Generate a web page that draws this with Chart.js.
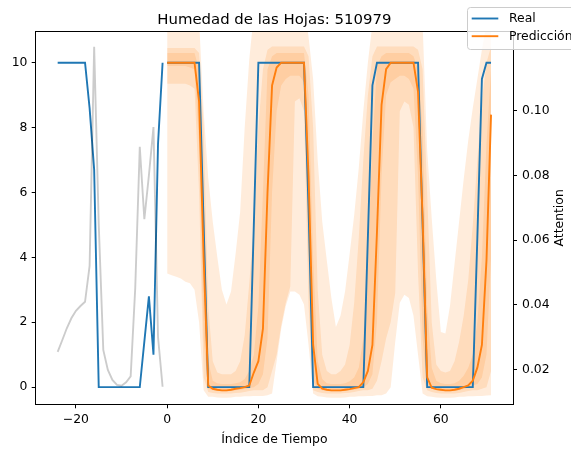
<!DOCTYPE html>
<html>
<head>
<meta charset="utf-8">
<script src="https://cdn.jsdelivr.net/npm/chart.js@4.4.1/dist/chart.umd.min.js"></script>
<style>
  html, body { margin: 0; padding: 0; background: #ffffff; }
  #wrap { width: 571px; height: 449px; }
</style>
</head>
<body>
<div id="wrap"><canvas id="c" width="571" height="449"></canvas></div>
<script>
// ---- data -------------------------------------------------------------
const chartTitle = 'Humedad de las Hojas: 510979';
const xTitle = 'Índice de Tiempo';
const attnTitle = 'Attention';

const histIndex = [-24,-23,-22,-21,-20,-19,-18,-17,-16,-15,-14,-13,-12,-11,-10,-9,-8,-7,-6,-5,-4,-3,-2,-1];
const horizonIndex = [0,1,2,3,4,5,6,7,8,9,10,11,12,13,14,15,16,17,18,19,20,21,22,23,24,25,26,27,28,29,
  30,31,32,33,34,35,36,37,38,39,40,41,42,43,44,45,46,47,48,49,50,51,52,53,54,55,56,57,58,59,
  60,61,62,63,64,65,66,67,68,69,70,71];

// observed leaf wetness, encoder window
const realHistory = [10,10,10,10,10,10,10,8.6,6.7,0,0,0,0,0,0,0,0,0,0,1.4,2.8,1.0,7.5,10];

// observed leaf wetness, forecast window
const realHorizon = [
  10,10,10,10,10,10,10,10,5,0,
  0,0,0,0,0,0,0,0,0,5,
  10,10,10,10,10,10,10,10,10,10,
  10,5.5,0,0,0,0,0,0,0,0,
  0,0,0,0,4.6,9.3,10,10,10,10,
  10,10,10,10,10,10,5,0,0,0,
  0,0,0,0,0,0,0,0,4.6,9.5,
  10,10];

// median forecast
const prediction = [
  10,10,10,10,10,10,10,8.8,4.0,0.05,
  -0.05,-0.08,-0.1,-0.1,-0.08,-0.05,-0.03,0.0,0.05,0.45,
  0.8,1.8,6.0,9.3,9.85,10,10,10,10,10,
  10,6.5,1.3,0.1,-0.05,-0.08,-0.1,-0.1,-0.1,-0.08,
  -0.06,-0.03,0.0,0.15,0.5,1.3,4.8,8.7,9.8,10,
  10,10,10,10,10,9.1,5.2,0.3,-0.02,-0.06,
  -0.08,-0.1,-0.1,-0.08,-0.05,0.0,0.05,0.2,0.6,1.3,
  3.9,8.4];

// forecast quantiles
const q02 = [
  3.5,3.45,3.4,3.35,3.25,3.2,3.0,2.0,-0.1,-0.3,
  -0.3,-0.32,-0.33,-0.33,-0.32,-0.3,-0.3,-0.28,-0.28,-0.27,
  -0.27,-0.27,-0.25,-0.2,0.8,1.8,2.5,2.95,2.95,2.85,
  2.55,1.3,-0.2,-0.28,-0.3,-0.32,-0.33,-0.33,-0.33,-0.32,
  -0.3,-0.3,-0.28,-0.28,-0.27,-0.27,-0.25,-0.25,-0.2,0.0,
  1.4,2.6,2.85,2.75,2.2,1.0,-0.2,-0.28,-0.3,-0.32,
  -0.33,-0.33,-0.33,-0.32,-0.3,-0.3,-0.28,-0.28,-0.27,-0.27,
  -0.26,-0.25];
const q10 = [
  9.35,9.35,9.35,9.35,9.35,9.3,9.2,6.0,0.3,-0.15,
  -0.18,-0.2,-0.2,-0.2,-0.2,-0.18,-0.17,-0.15,-0.12,-0.1,
  -0.1,-0.1,0.0,0.5,1.0,1.9,2.6,3.1,8.8,8.9,
  8.5,2.5,-0.1,-0.15,-0.18,-0.2,-0.2,-0.2,-0.2,-0.18,
  -0.17,-0.15,-0.12,-0.1,-0.1,-0.05,0.2,0.8,1.5,2.0,
  2.9,8.5,8.8,8.7,8.0,3.5,0.3,-0.1,-0.15,-0.18,
  -0.2,-0.2,-0.2,-0.2,-0.18,-0.15,-0.12,-0.1,-0.1,-0.05,
  0.0,0.5];
const q25 = [
  9.9,9.9,9.9,9.9,9.9,9.85,9.8,7.5,1.5,-0.05,
  -0.1,-0.12,-0.13,-0.13,-0.12,-0.1,-0.08,-0.06,-0.03,0.0,
  0.1,0.4,1.5,6.0,8.5,9.3,9.5,9.6,9.6,9.6,
  9.4,4.0,0.2,-0.05,-0.1,-0.12,-0.13,-0.13,-0.13,-0.12,
  -0.1,-0.08,-0.05,0.0,0.1,0.4,2.0,6.5,9.0,9.4,
  9.5,9.6,9.6,9.5,9.2,6.5,1.5,0.0,-0.05,-0.1,
  -0.12,-0.13,-0.13,-0.12,-0.1,-0.06,-0.02,0.05,0.1,0.3,
  1.0,4.0];
const q75 = [
  10.3,10.3,10.3,10.3,10.3,10.3,10.3,9.8,6.0,0.8,
  0.2,0.12,0.1,0.1,0.1,0.12,0.15,0.25,0.5,1.0,
  2.5,6.0,9.8,10.2,10.3,10.3,10.3,10.3,10.3,10.3,
  10.3,9.0,4.0,0.8,0.25,0.12,0.1,0.1,0.1,0.12,
  0.18,0.3,0.6,1.5,4.0,7.5,9.9,10.2,10.3,10.3,
  10.3,10.3,10.3,10.3,10.2,9.8,8.0,2.5,0.6,0.2,
  0.12,0.1,0.1,0.12,0.2,0.35,0.6,1.0,2.0,4.0,
  7.5,9.8];
const q90 = [
  10.45,10.45,10.45,10.45,10.45,10.45,10.45,10.3,8.0,2.5,
  0.8,0.45,0.4,0.4,0.4,0.5,0.8,1.6,3.2,5.0,
  8.0,9.8,10.4,10.5,10.5,10.5,10.5,10.5,10.5,10.5,
  10.5,10.2,8.0,3.0,1.0,0.5,0.4,0.4,0.5,0.7,
  1.3,2.6,4.6,7.0,9.0,10.2,10.5,10.5,10.5,10.5,
  10.5,10.5,10.5,10.5,10.5,10.4,9.8,6.0,2.0,0.7,
  0.5,0.45,0.5,0.8,1.4,2.2,3.3,5.0,7.0,8.8,
  10.0,10.5];
const q98 = [
  11.8,11.8,11.8,11.8,11.8,11.8,11.8,11.3,8.5,6.45,
  5.1,4.0,3.0,2.55,2.95,4.1,5.4,8.0,10.1,11.5,
  11.8,11.8,11.8,11.8,11.8,11.8,11.8,11.8,11.8,11.8,
  11.8,10.8,9.5,7.0,5.1,3.9,2.75,1.85,2.2,2.95,
  4.1,5.3,6.75,8.5,10.0,11.2,11.8,11.8,11.8,11.8,
  11.8,11.8,11.8,11.8,11.8,11.8,11.2,7.3,5.2,3.3,
  1.7,1.65,2.5,3.8,5.1,6.4,7.6,8.6,9.5,10.4,
  11.2,11.5];

// encoder attention weights (right axis)
const attention = [0.0254,0.029,0.0327,0.0358,0.0381,0.0396,0.0409,0.052,0.1198,0.065,0.026,0.0198,
  0.0167,0.0152,0.0149,0.016,0.0178,0.045,0.0889,0.0665,0.080,0.095,0.030,0.0146];

const xTickValues = [-20, 0, 20, 40, 60];
const yTickValues = [0, 2, 4, 6, 8, 10];
const attnTickValues = [0.02, 0.04, 0.06, 0.08, 0.10];

// ---- styling ----------------------------------------------------------
const BLUE = '#1f77b4';
const ORANGE = '#ff7f0e';
const BAND = 'rgba(255,127,14,0.15)';
const FONT = "'DejaVu Sans', sans-serif";
const tickFont = { family: FONT, size: 12.4, lineHeight: 1.2 };

const pts = (xs, ys) => xs.map((x, i) => ({ x: x, y: ys[i] }));

function band(data, fillTarget) {
  return {
    data: data,
    borderColor: 'rgba(0,0,0,0)',
    borderWidth: 0,
    backgroundColor: BAND,
    fill: fillTarget === undefined ? false : fillTarget,
    pointRadius: 0,
    order: 5,
    yAxisID: 'y'
  };
}

function fmtTick(v) {
  return (v < 0 ? '\u2212' : '') + Math.abs(v);
}

const legendItems = [
  { label: 'Real', color: BLUE },
  { label: 'Predicción', color: ORANGE }
];

function roundRect(ctx, x, y, w, h, r) {
  ctx.beginPath();
  ctx.moveTo(x + r, y);
  ctx.arcTo(x + w, y, x + w, y + h, r);
  ctx.arcTo(x + w, y + h, x, y + h, r);
  ctx.arcTo(x, y + h, x, y, r);
  ctx.arcTo(x, y, x + w, y, r);
  ctx.closePath();
}

// frame, title, right-axis label and figure legend
const decor = {
  id: 'decor',
  afterDatasetsDraw(chart) {
    const { ctx, chartArea: a } = chart;
    ctx.save();
    ctx.strokeStyle = '#000';
    ctx.lineWidth = 1;
    const l = Math.round(a.left) - 0.5, t = Math.round(a.top) - 0.5;
    const r = Math.round(a.right) + 0.5, b = Math.round(a.bottom) + 0.5;
    ctx.strokeRect(l, t, r - l, b - t);
    ctx.restore();
  },
  afterDraw(chart) {
    const { ctx, chartArea: a } = chart;
    ctx.save();
    ctx.fillStyle = '#000';
    ctx.font = '14.9px ' + FONT;
    ctx.textAlign = 'center';
    ctx.textBaseline = 'alphabetic';
    ctx.fillText(chartTitle, (a.left + a.right) / 2, a.top - 8);

    ctx.save();
    ctx.translate(559.5, (a.top + a.bottom) / 2);
    ctx.rotate(-Math.PI / 2);
    ctx.font = '12.4px ' + FONT;
    ctx.textBaseline = 'middle';
    ctx.fillText(attnTitle, 0, 0);
    ctx.restore();

    // legend box
    roundRect(ctx, 467.5, 7.5, 130, 42, 3);
    ctx.fillStyle = 'rgba(255,255,255,0.8)';
    ctx.fill();
    ctx.strokeStyle = '#cccccc';
    ctx.lineWidth = 1;
    ctx.stroke();
    ctx.font = '12.4px ' + FONT;
    ctx.textAlign = 'left';
    ctx.textBaseline = 'middle';
    legendItems.forEach((it, i) => {
      const y = 18.5 + i * 17.7;
      ctx.strokeStyle = it.color;
      ctx.lineWidth = 1.9;
      ctx.beginPath();
      ctx.moveTo(471.7, y);
      ctx.lineTo(498.3, y);
      ctx.stroke();
      ctx.fillStyle = '#000';
      ctx.fillText(it.label, 509, y + 0.5);
    });
    ctx.restore();
  }
};

const gridOpts = { display: true, drawOnChartArea: false, drawTicks: true, tickLength: 4.3, color: '#000', lineWidth: 1 };

new Chart(document.getElementById('c'), {
  type: 'line',
  data: {
    datasets: [
      { label: 'Real', data: pts(histIndex, realHistory), borderColor: BLUE, borderWidth: 1.9, pointRadius: 0, fill: false, order: 2, yAxisID: 'y' },
      { label: 'Real', data: pts(horizonIndex, realHorizon), borderColor: BLUE, borderWidth: 1.9, pointRadius: 0, fill: false, order: 2, yAxisID: 'y' },
      { label: 'Predicción', data: pts(horizonIndex, prediction), borderColor: ORANGE, borderWidth: 1.9, pointRadius: 0, fill: false, order: 1, yAxisID: 'y' },
      band(pts(horizonIndex, q02)),
      band(pts(horizonIndex, q98), 3),
      band(pts(horizonIndex, q10)),
      band(pts(horizonIndex, q90), 5),
      band(pts(horizonIndex, q25)),
      band(pts(horizonIndex, q75), 7),
      { label: 'attention', data: pts(histIndex, attention), borderColor: 'rgba(0,0,0,0.2)', borderWidth: 1.9, pointRadius: 0, fill: false, order: 0, yAxisID: 'y2' }
    ]
  },
  options: {
    responsive: false,
    animation: false,
    devicePixelRatio: 1,
    layout: { padding: { top: 31.7, left: 0, right: 0, bottom: 0 } },
    elements: { line: { tension: 0 }, point: { radius: 0 } },
    plugins: {
      legend: { display: false },
      title: { display: false },
      tooltip: { enabled: false },
      filler: { propagate: false }
    },
    scales: {
      x: {
        type: 'linear',
        min: -28.75,
        max: 75.75,
        afterBuildTicks: s => { s.ticks = xTickValues.map(v => ({ value: v })); },
        afterFit: s => { s.height = 45; },
        ticks: { callback: v => fmtTick(v), font: tickFont, color: '#000', padding: 4, maxRotation: 0, autoSkip: false },
        grid: gridOpts,
        border: { display: false },
        title: { display: true, text: xTitle, font: tickFont, color: '#000', padding: { top: 0, bottom: 2 } }
      },
      y: {
        type: 'linear',
        position: 'left',
        min: -0.52,
        max: 10.955,
        afterBuildTicks: s => { s.ticks = yTickValues.map(v => ({ value: v })); },
        afterFit: s => { s.width = 36; },
        ticks: { callback: v => fmtTick(v), font: tickFont, color: '#000', padding: 4.3 },
        grid: gridOpts,
        border: { display: false }
      },
      y2: {
        type: 'linear',
        position: 'right',
        min: 0.00926,
        max: 0.1245,
        afterBuildTicks: s => { s.ticks = attnTickValues.map(v => ({ value: v })); },
        afterFit: s => { s.width = 58.3; },
        ticks: { callback: v => v.toFixed(2), font: tickFont, color: '#000', padding: 5 },
        grid: gridOpts,
        border: { display: false }
      }
    }
  },
  plugins: [decor]
});
</script>
</body>
</html>
